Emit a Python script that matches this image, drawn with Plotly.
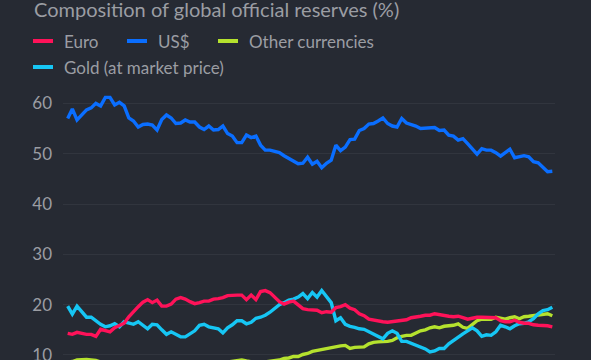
import pandas as pd
import plotly.graph_objects as go

title_text = "Composition of global official reserves (%)"
series_names = ["Euro", "US$", "Other currencies", "Gold (at market price)"]
series_colors = ["#ff1259", "#0a6eff", "#b5e22e", "#16c6f4"]

dates = pd.date_range("1999-01-01", periods=104, freq="QS")

usd = [57.0, 58.9, 56.7, 57.7, 58.7, 59.1, 60.0, 59.5, 61.2, 61.2, 59.7, 60.2, 59.5, 57.1, 56.5, 55.3,
       55.8, 55.9, 55.7, 54.7, 56.8, 57.7, 57.1, 56.0, 56.1, 56.7, 56.3, 56.3, 55.3, 54.8, 55.5, 54.7,
       54.8, 55.5, 54.0, 53.5, 52.2, 52.2, 53.7, 53.2, 53.5, 51.7, 50.7, 50.7, 50.5, 50.2, 49.6, 49.1,
       48.5, 48.0, 48.1, 49.3, 47.9, 48.5, 47.2, 48.1, 48.7, 51.7, 50.6, 51.3, 52.8, 52.9, 54.6, 55.0,
       55.9, 56.0, 56.5, 57.1, 56.0, 55.5, 55.3, 57.0, 56.1, 55.8, 55.5, 55.0, 55.1, 55.1, 55.2, 54.6,
       54.7, 53.7, 53.5, 52.7, 53.0, 52.0, 50.9, 49.9, 51.0, 50.7, 50.7, 50.2, 49.5, 50.2, 50.9, 49.2,
       49.4, 49.6, 49.4, 48.4, 48.2, 47.3, 46.4, 46.5]

euro = [14.3, 14.1, 14.5, 14.3, 14.1, 14.1, 13.7, 15.1, 14.8, 14.6, 15.4, 15.8, 16.3, 17.6, 18.7, 19.6,
        20.5, 21.0, 20.4, 20.9, 19.7, 19.7, 20.1, 21.1, 21.4, 21.1, 20.6, 20.2, 20.4, 20.7, 20.7, 21.1,
        21.2, 21.4, 21.8, 21.9, 21.9, 21.9, 21.0, 21.9, 21.0, 22.6, 22.8, 22.4, 21.6, 20.6, 20.1, 20.5,
        20.7, 19.9, 19.2, 19.0, 19.0, 18.9, 18.4, 18.6, 18.5, 19.4, 19.6, 20.0, 19.3, 19.0, 18.2, 17.8,
        17.1, 16.9, 16.8, 16.6, 16.5, 16.6, 16.8, 16.9, 17.0, 17.4, 17.5, 17.7, 17.9, 17.9, 18.2, 18.0,
        17.8, 17.7, 17.6, 17.7, 17.4, 17.1, 17.3, 17.5, 17.5, 17.5, 17.5, 17.4, 16.8, 16.6, 16.6, 16.9,
        16.5, 16.3, 16.3, 16.0, 15.9, 15.9, 15.8, 15.6]

other = [8.6, 8.7, 9.0, 9.1, 9.1, 9.0, 8.9, 8.6, 8.5, 8.3, 8.2, 8.0, 7.9, 7.8, 7.7, 7.6,
         7.6, 7.5, 7.5, 7.4, 7.4, 7.5, 7.6, 7.7, 7.8, 7.9, 8.0, 8.1, 8.2, 8.3, 8.4, 8.5,
         8.5, 8.6, 8.6, 8.7, 8.8, 9.0, 8.8, 8.6, 8.5, 8.5, 8.6, 8.7, 8.8, 9.0, 9.3, 9.4,
         9.7, 9.7, 10.1, 10.3, 10.7, 10.9, 11.1, 11.3, 11.4, 11.7, 11.8, 11.9, 11.3, 11.5, 11.5, 11.6,
         12.2, 12.5, 12.6, 12.6, 12.7, 12.9, 13.4, 13.7, 13.9, 13.9, 14.4, 14.8, 15.0, 15.4, 15.6, 15.4,
         15.7, 15.8, 15.9, 16.2, 15.5, 15.3, 16.1, 16.8, 17.1, 17.1, 17.1, 17.5, 17.3, 17.1, 17.4, 17.6,
         17.2, 17.6, 17.7, 17.8, 18.0, 18.0, 18.2, 17.8]

gold = [19.7, 18.1, 19.7, 18.5, 17.5, 17.5, 16.8, 16.1, 15.6, 15.8, 16.2, 15.6, 16.6, 16.4, 16.1, 16.6,
        15.8, 15.2, 16.1, 16.0, 15.0, 14.1, 14.6, 14.1, 13.6, 13.6, 14.2, 14.8, 15.9, 16.1, 15.6, 15.4,
        15.2, 14.4, 15.4, 16.0, 16.8, 16.8, 16.2, 16.5, 17.3, 17.5, 17.9, 18.5, 19.3, 20.0, 20.4, 20.9,
        21.1, 21.5, 22.2, 21.2, 22.4, 21.5, 22.8, 21.6, 20.4, 16.8, 17.4, 16.1, 15.7, 15.5, 15.2, 15.1,
        14.6, 14.3, 13.7, 13.2, 14.3, 14.8, 14.3, 12.7, 12.7, 12.3, 12.0, 11.5, 11.2, 10.6, 10.8, 11.3,
        11.3, 12.2, 12.9, 13.7, 14.2, 14.8, 15.4, 14.8, 13.7, 14.0, 13.9, 14.6, 15.9, 15.6, 15.2, 15.8,
        16.2, 16.3, 16.6, 17.2, 18.2, 18.8, 19.0, 19.5]

y_ticks = [10, 20, 30, 40, 50, 60]

BG = "#262a33"
TXT = "#9b9da3"
GRID = "#31353e"
FONT = "Lato"

fig = go.Figure()
# draw order: other, gold, euro, usd
for name, vals, col in [(series_names[2], other, series_colors[2]),
                        (series_names[3], gold, series_colors[3]),
                        (series_names[0], euro, series_colors[0]),
                        (series_names[1], usd, series_colors[1])]:
    fig.add_trace(go.Scatter(x=dates, y=vals, mode="lines", name=name,
                             line=dict(color=col, width=3.4), showlegend=False))

W, H = 591, 360
L, R, T, B = 63, 36, 83, 0
pw, ph = W - L - R, H - T - B

def px2paper_x(px):
    return (px - L) / pw

def px2paper_y(py):
    return (H - B - py) / ph

# legend built from names/colours
legend_layout = [(33, 41), (127, 41), (218, 41), (33, 67)]
order = [0, 1, 2, 3]
shapes = []
annotations = []
for k, idx in enumerate(order):
    sx, sy = legend_layout[k]
    shapes.append(dict(type="line", xref="paper", yref="paper",
                       x0=px2paper_x(sx), x1=px2paper_x(sx + 20),
                       y0=px2paper_y(sy), y1=px2paper_y(sy),
                       line=dict(color=series_colors[idx], width=4)))
    annotations.append(dict(text=series_names[idx], xref="paper", yref="paper",
                            x=px2paper_x(sx + 29), y=px2paper_y(sy),
                            xanchor="left", yanchor="middle", showarrow=False,
                            font=dict(family=FONT, size=17, color=TXT)))

annotations.append(dict(text=title_text, xref="paper", yref="paper",
                        x=px2paper_x(32), y=px2paper_y(9),
                        xanchor="left", yanchor="middle", showarrow=False,
                        font=dict(family=FONT, size=20, color=TXT)))

fig.update_layout(
    template="none",
    width=W, height=H,
    paper_bgcolor=BG, plot_bgcolor=BG,
    margin=dict(l=L, r=R, t=T, b=B, pad=0),
    showlegend=False,
    shapes=shapes,
    annotations=annotations,
    xaxis=dict(range=[dates[0] - pd.Timedelta(days=91), dates[-1] + pd.Timedelta(days=52)],
               showgrid=False, zeroline=False, showticklabels=False, showline=False,
               ticks="", automargin=False),
    yaxis=dict(range=[9.0, 64.05], tickvals=y_ticks, showgrid=True, gridcolor=GRID,
               gridwidth=1, zeroline=False, showline=False, ticks="",
               ticklabelstandoff=10, automargin=False, ticklabeloverflow="allow",
               tickfont=dict(family=FONT, size=17, color=TXT)),
)

fig.write_html(
    "out.html",
    config={"displayModeBar": False},
    post_script="document.body.style.margin='0';document.body.style.background='%s';" % BG,
)
